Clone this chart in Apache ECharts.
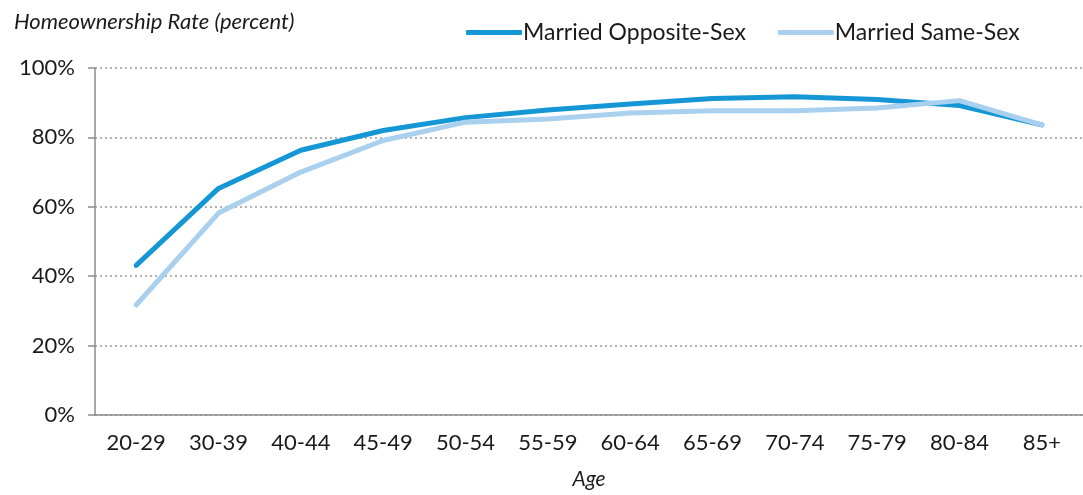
<!DOCTYPE html>
<html>
<head>
<meta charset="utf-8">
<script src="https://cdn.jsdelivr.net/npm/echarts@6/dist/echarts.min.js"></script>
<style>
  html, body { margin: 0; padding: 0; background: #fff; }
  #chart { width: 1083px; height: 495px; }
</style>
</head>
<body>
<div id="chart"></div>
<script>
var chart = echarts.init(document.getElementById('chart'));

var ages = ['20-29', '30-39', '40-44', '45-49', '50-54', '55-59', '60-64', '65-69', '70-74', '75-79', '80-84', '85+'];
var oppositeSex = [43.1, 65.3, 76.3, 82.0, 85.7, 87.9, 89.6, 91.2, 91.7, 90.9, 89.2, 83.6];
var sameSex = [31.7, 58.2, 70.0, 79.1, 84.4, 85.3, 87.0, 87.7, 87.7, 88.5, 90.6, 83.6];

var font = 'Lato';
var textColor = '#1a1a1a';
var axisGray = '#8c8c8c';

var option = {
    animation: false,
    textStyle: { fontFamily: font },
    title: {
        text: 'Homeownership Rate (percent)',
        left: 9,
        top: 6,
        textStyle: {
            fontFamily: font,
            fontStyle: 'italic',
            fontWeight: 'normal',
            fontSize: 22,
            color: textColor
        }
    },
    legend: {
        left: 461,
        top: 16,
        itemWidth: 56,
        itemHeight: 5,
        itemGap: 32,
        icon: 'roundRect',
        textStyle: { fontFamily: font, fontSize: 23, color: textColor, padding: [0, 0, 0, -4] },
        data: ['Married Opposite-Sex', 'Married Same-Sex']
    },
    grid: {
        left: 95,
        top: 68,
        width: 1000,
        height: 350
    },
    xAxis: {
        type: 'category',
        data: ages,
        name: 'Age',
        nameLocation: 'middle',
        nameGap: 54,
        nameTextStyle: { fontFamily: font, fontStyle: 'italic', fontSize: 21, color: textColor },
        axisLine: { lineStyle: { color: axisGray, width: 1.5 } },
        axisTick: { length: 7, lineStyle: { color: axisGray, width: 1.5 } },
        axisLabel: { margin: 17, fontSize: 22, color: textColor, fontFamily: font },
        splitLine: { show: false }
    },
    yAxis: {
        type: 'value',
        min: 0,
        max: 100,
        interval: 20,
        axisLine: { show: true, lineStyle: { color: axisGray, width: 1.5 } },
        axisTick: { show: true, length: 7, lineStyle: { color: axisGray, width: 1.5 } },
        axisLabel: { margin: 20, fontSize: 22, color: textColor, fontFamily: font, formatter: '{value}%' },
        splitLine: { lineStyle: { color: '#9a9a9a', type: [2, 3], width: 1.5 } }
    },
    series: [
        {
            name: 'Married Opposite-Sex',
            type: 'line',
            data: oppositeSex,
            symbol: 'none',
            itemStyle: { color: '#1597d5' },
            lineStyle: { color: '#1597d5', width: 5, cap: 'round', join: 'round' }
        },
        {
            name: 'Married Same-Sex',
            type: 'line',
            data: sameSex,
            symbol: 'none',
            itemStyle: { color: '#a9d0ee' },
            lineStyle: { color: '#a9d0ee', width: 5, cap: 'round', join: 'round' }
        }
    ]
};

chart.setOption(option);
</script>
</body>
</html>
